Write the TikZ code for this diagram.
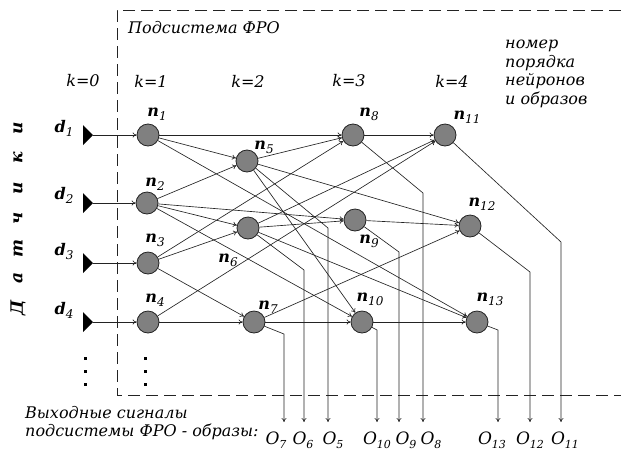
\documentclass[tikz,border=0pt]{standalone}
\usepackage{fontspec}
\setmainfont{DejaVu Serif}
\usetikzlibrary{arrows.meta, calc, positioning}
\definecolor{neurongray}{RGB}{128,128,128}
\definecolor{linedark}{RGB}{35,35,35}
\newcommand{\idx}[1]{\raisebox{-4pt}{\fontsize{12}{12}\selectfont\mdseries\itshape #1}}
\newcommand{\oidx}[1]{\raisebox{-4pt}{\fontsize{11}{11}\selectfont\itshape #1}}

\begin{document}
\begin{tikzpicture}[x=1pt, y=-1pt,
    neuron/.style={circle, draw=linedark, fill=neurongray, line width=0.8pt, minimum size=22pt, inner sep=0pt},
    link/.style={draw=linedark, line width=0.65pt, -{To[length=4pt, width=5pt]}},
    txt/.style={font=\fontsize{16}{18.5}\selectfont\itshape, inner sep=0pt},
    nlabel/.style={font=\fontsize{16}{18}\selectfont\itshape\bfseries, inner sep=0pt},
    outlbl/.style={font=\fontsize{17}{18}\selectfont\itshape, inner sep=0pt, anchor=north},
    frame/.style={draw=linedark, line width=0.8pt, dash pattern=on 12pt off 6pt}]
\useasboundingbox (0,0) rectangle (621,456);

% dashed border of the subsystem
\draw[frame] (621,10) -- (117,10) -- (117,395) -- (621,395);

\node[txt, anchor=west] (title) at (128,28) {Подсистема ФРО};
\node[txt, anchor=north west, align=left] (note) at (505,40) {номер\\порядка\\нейронов\\и образов};

\foreach \k/\x in {0/83, 1/151, 2/248, 3/349, 4/452}
  \node[txt] (k\k) at (\x,81) {k=\k};

% neurons
\foreach \i/\x/\y in {1/148/135, 2/147/203, 3/148/263, 4/148/322,
                      5/247/161, 6/248/228, 7/254/322,
                      8/353/135, 9/355/220, 10/362/322,
                      11/445/135, 12/470/226, 13/477/322}
  \node[neuron] (n\i) at (\x,\y) {};

\foreach \i/\dx/\dy in {1/9/-21, 2/8/-19, 3/7/-23, 4/7/-22, 5/17/-14, 6/-20/32, 7/14/-15,
                        8/16/-21, 9/14/21, 10/8/-23, 11/22/-18, 12/12/-22, 13/13/-23}
  \node[nlabel] (ln\i) at ($(n\i)+(\dx,\dy)$) {n\idx{\i}};

% sensors
\foreach \i/\y/\dy in {1/135/7, 2/203/8, 3/263/12, 4/322/12} {
  \coordinate (s\i) at (93,\y);
  \fill[black] (s\i) -- ++(-10,-10) -- ++(0,20) -- cycle;
  \node[nlabel] (d\i) at (64,\y-\dy) {d\idx{\i}};
  \draw[link] (s\i) -- (n\i);
}

\foreach \ch [count=\j from 0] in {Д,а,т,ч,и,к,и}
  \node[nlabel, rotate=90, font=\fontsize{17}{18}\selectfont\itshape\bfseries] (w\j) at (18,308-30*\j) {\ch};

\foreach \x in {85,145}
  \foreach \y in {358,371,384}
    \fill[black] (\x-1.5,\y-1.5) rectangle ++(3,3);

% connections between layers
\foreach \a/\b in {1/8, 1/5, 1/13, 2/5, 2/6, 2/9, 2/10, 3/6, 3/8, 3/7, 4/7, 4/11,
                   5/8, 5/12, 5/10, 6/9, 6/11, 6/13, 7/10, 7/12, 8/11, 9/12, 10/13}
  \draw[link] (n\a) -- (n\b);

% output signals
\foreach \i/\bx/\by/\lx in {7/284/334/276, 6/304/270/303, 5/328/228/333,
                            10/377/330/377, 9/399/252/406, 8/423/193/431,
                            13/498/330/492, 12/530/272/530, 11/561/242/565} {
  \coordinate (b\i) at (\bx,\by);
  \coordinate (e\i) at (\bx,422);
  \node[outlbl] (o\i) at (\lx,432) {O\oidx{\i}};
  \draw[link] (n\i) -- (b\i) -- (e\i);
}

\node[txt, anchor=west, align=left] (outtext) at (25,423) {Выходные сигналы\\подсистемы ФРО - образы:};
\end{tikzpicture}
\end{document}
